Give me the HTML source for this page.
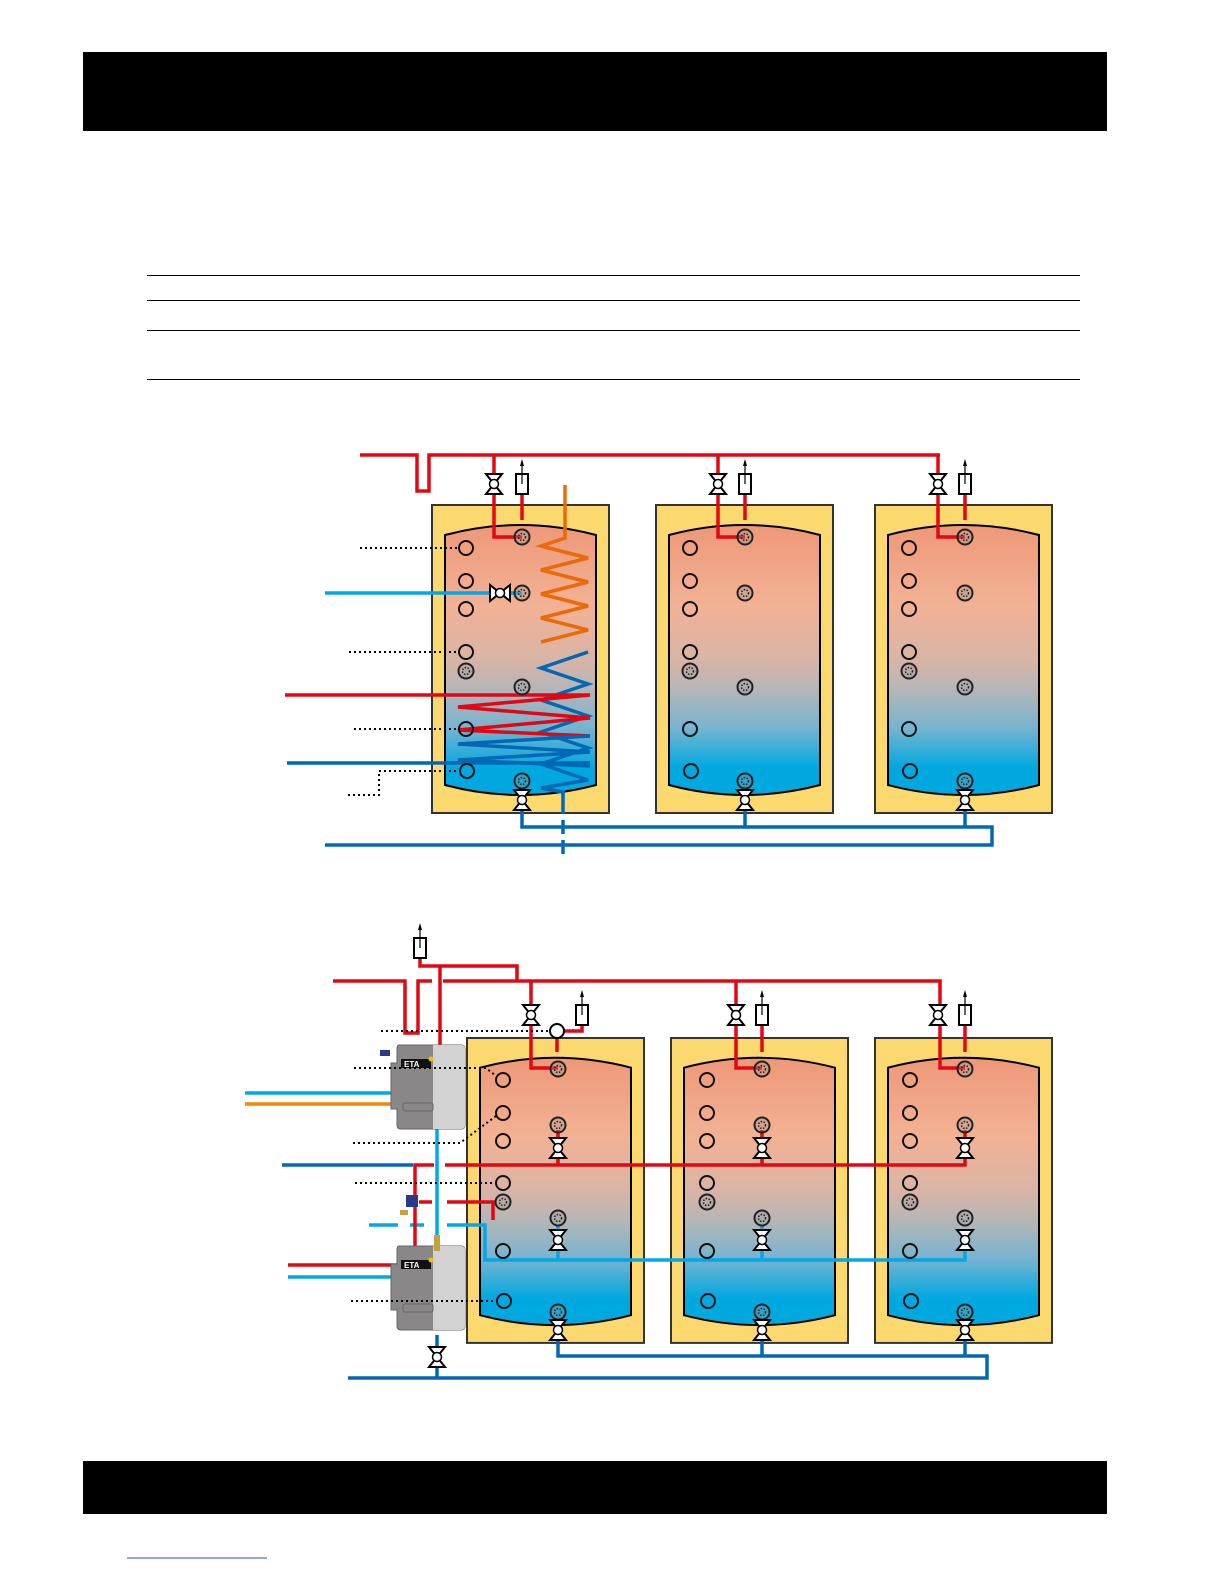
<!DOCTYPE html>
<html><head><meta charset="utf-8"><style>
html,body{margin:0;padding:0;background:#fff}
svg{display:block}
</style></head><body>
<svg width="1225" height="1585" viewBox="0 0 1225 1585" xmlns="http://www.w3.org/2000/svg">
<defs>
<linearGradient id="tg" x1="0" y1="0" x2="0" y2="1">
<stop offset="0" stop-color="#ee9878"/>
<stop offset="0.3" stop-color="#f2b295"/>
<stop offset="0.5" stop-color="#d8b4a6"/>
<stop offset="0.6" stop-color="#b8b6b6"/>
<stop offset="0.75" stop-color="#78b4cf"/>
<stop offset="0.9" stop-color="#00a8e0"/>
<stop offset="1" stop-color="#00a8e0"/>
</linearGradient>
<g id="tank">
<rect x="0" y="0" width="177" height="308" fill="#fbd96e" stroke="#333" stroke-width="2"/>
<path d="M13,30 Q88,10 164,30 L164,280 Q88,300 13,280 Z" fill="url(#tg)" stroke="#000" stroke-width="2"/>
</g>
<g id="vv"><polygon points="-8,-10 8,-10 0,0" fill="#fff" stroke="#000" stroke-width="2"/><polygon points="-8,10 8,10 0,0" fill="#fff" stroke="#000" stroke-width="2"/><circle r="4.5" fill="#fff" stroke="#000" stroke-width="1.5"/></g>
<g id="pt"><circle r="7" fill="none" stroke="#111" stroke-width="2"/></g>
<g id="pd"><circle r="7.5" fill="rgba(150,150,150,0.35)" stroke="#222" stroke-width="2"/><circle r="3.5" fill="none" stroke="#222" stroke-width="1.5" stroke-dasharray="1.5 1.5"/></g>
<g id="vent"><rect x="-6" y="-10" width="12" height="20" fill="#fff" stroke="#000" stroke-width="2"/><line x1="0" y1="0" x2="0" y2="-22" stroke="#000" stroke-width="1.2"/><polygon points="-2,-18 2,-18 0,-25" fill="#000"/></g>
<g id="eta">
<path d="M10,0 H72 Q76,0 76,4 V80 Q76,84 72,84 H12 Q8,84 8,80 V64 H2 V18 H8 V4 Q8,0 10,0 Z" fill="#8a8789" stroke="#666" stroke-width="1"/>
<path d="M44,0 H72 Q76,0 76,4 V80 Q76,84 72,84 H44 Z" fill="#d2d2d2"/>
<rect x="12" y="14" width="30" height="9" fill="#111"/>
<text x="15" y="22" font-family="Liberation Sans, sans-serif" font-size="8" fill="#fff" font-weight="bold">ETA</text>
<circle cx="42" cy="14" r="2.5" fill="#f6c000"/>
<rect x="14" y="58" width="30" height="8" rx="2" fill="none" stroke="#666"/>
</g>
</defs>

<!-- header/footer -->
<rect x="83" y="52" width="1024" height="79" fill="#000"/>
<rect x="83" y="1461" width="1024" height="53" fill="#000"/>
<g stroke="#000" stroke-width="1">
<line x1="147" y1="275.5" x2="1080" y2="275.5"/>
<line x1="147" y1="300.5" x2="1080" y2="300.5"/>
<line x1="147" y1="330.5" x2="1080" y2="330.5"/>
<line x1="147" y1="379.5" x2="1080" y2="379.5"/>
</g>
<line x1="127" y1="1558" x2="267" y2="1558" stroke="#3344cc" stroke-width="1"/>

<!-- ===== TOP DIAGRAM ===== -->
<use href="#tank" x="432" y="505"/>
<use href="#tank" x="656" y="505"/>
<use href="#tank" x="875" y="505"/>

<!-- blue bottom manifold -->
<g fill="none" stroke="#0068b5" stroke-width="3.5">
<polyline points="522,805 522,827 992,827 992,845 325,845"/>
<line x1="745" y1="805" x2="745" y2="827"/>
<line x1="965" y1="805" x2="965" y2="827"/>
</g>
<!-- red top -->
<g fill="none" stroke="#e30613" stroke-width="3.5">
<polyline points="360,455 417,455 417,491 429,491 429,455 940,455"/>
<polyline points="494,455 494,537 522,537"/>
<polyline points="718,455 718,537 745,537"/>
<polyline points="938,455 938,537 965,537"/>
<line x1="522" y1="490" x2="522" y2="520"/>
<line x1="745" y1="490" x2="745" y2="520"/>
<line x1="965" y1="490" x2="965" y2="520"/>
</g>
<!-- coils -->
<polyline fill="none" stroke="#ea6a0a" stroke-width="3.5" points="565,485 565,538 541,546 588,558 541,570 588,582 541,594 588,606 541,618 588,630 541,642"/>
<polyline fill="none" stroke="#0068b5" stroke-width="3.5" points="588,652 541,668 588,684 541,700 588,716 541,732 588,748 541,764 588,780 541,788 563,792 563,800"/>
<line x1="563" y1="800" x2="563" y2="860" stroke="#0068b5" stroke-width="3.5" stroke-dasharray="14 6"/>
<polyline fill="none" stroke="#e30613" stroke-width="3.5" points="285,695 590,695 458,707 590,718 458,730 590,736"/>
<polyline fill="none" stroke="#0068b5" stroke-width="3.5" points="590,736 458,744 590,752 458,760 590,766"/>
<line x1="287" y1="763" x2="590" y2="763" stroke="#0068b5" stroke-width="3.5"/>
<line x1="325" y1="593" x2="522" y2="593" stroke="#00a8e8" stroke-width="3.5"/>
<!-- dotted -->
<g stroke="#000" stroke-width="2" stroke-dasharray="2 3" fill="none">
<line x1="360" y1="548" x2="459" y2="548"/>
<line x1="349" y1="652" x2="459" y2="652"/>
<line x1="354" y1="729" x2="459" y2="729"/>
<polyline points="348,795 379,795 379,771 459,771"/>
</g>
<!-- ports top -->
<g>
<use href="#pt" x="466" y="548"/><use href="#pt" x="466" y="581"/><use href="#pt" x="466" y="609"/><use href="#pt" x="466" y="652"/><use href="#pd" x="466" y="671"/><use href="#pt" x="466" y="729"/><use href="#pt" x="467" y="771"/>
<use href="#pd" x="522" y="537"/><use href="#pd" x="522" y="593"/><use href="#pd" x="522" y="687"/><use href="#pd" x="522" y="781"/>
<use href="#pt" x="690" y="548"/><use href="#pt" x="690" y="581"/><use href="#pt" x="690" y="609"/><use href="#pt" x="690" y="652"/><use href="#pd" x="690" y="671"/><use href="#pt" x="690" y="729"/><use href="#pt" x="691" y="771"/>
<use href="#pd" x="745" y="537"/><use href="#pd" x="745" y="593"/><use href="#pd" x="745" y="687"/><use href="#pd" x="745" y="781"/>
<use href="#pt" x="909" y="548"/><use href="#pt" x="909" y="581"/><use href="#pt" x="909" y="609"/><use href="#pt" x="909" y="652"/><use href="#pd" x="909" y="671"/><use href="#pt" x="909" y="729"/><use href="#pt" x="910" y="771"/>
<use href="#pd" x="965" y="537"/><use href="#pd" x="965" y="593"/><use href="#pd" x="965" y="687"/><use href="#pd" x="965" y="781"/>
</g>
<use href="#vv" x="494" y="484"/><use href="#vv" x="718" y="484"/><use href="#vv" x="938" y="484"/>
<use href="#vent" x="522" y="484"/><use href="#vent" x="745" y="484"/><use href="#vent" x="965" y="484"/>
<use href="#vv" x="522" y="800"/><use href="#vv" x="745" y="800"/><use href="#vv" x="965" y="800"/>
<use href="#vv" transform="translate(500,593) rotate(90)"/>

<!-- ===== BOTTOM DIAGRAM ===== -->
<use href="#tank" transform="translate(467,1038) scale(1,0.99)"/>
<use href="#tank" transform="translate(671,1038) scale(1,0.99)"/>
<use href="#tank" transform="translate(875,1038) scale(1,0.99)"/>

<g fill="none" stroke="#0068b5" stroke-width="3.5">
<polyline points="558,1335 558,1356 987,1356 987,1378 348,1378"/>
<line x1="762" y1="1335" x2="762" y2="1356"/>
<line x1="965" y1="1335" x2="965" y2="1356"/>
<line x1="437" y1="1335" x2="437" y2="1378"/>
<line x1="282" y1="1165" x2="413" y2="1165"/>
</g>
<g fill="none" stroke="#00a8e8" stroke-width="3.5">
<line x1="437" y1="1128" x2="437" y2="1245"/>
<line x1="245" y1="1093" x2="392" y2="1093"/>
<line x1="288" y1="1277" x2="400" y2="1277"/>
<line x1="369" y1="1225" x2="398" y2="1225"/>
<line x1="410" y1="1225" x2="424" y2="1225"/>
<polyline points="447,1225 485,1225 485,1260 965,1260 965,1232"/>
<line x1="558" y1="1260" x2="558" y2="1225"/>
<line x1="762" y1="1260" x2="762" y2="1225"/>
</g>
<line x1="245" y1="1104" x2="392" y2="1104" stroke="#ee8a00" stroke-width="3.5"/>
<g fill="none" stroke="#e30613" stroke-width="3.5">
<polyline points="333,981 405,981 405,1033 418,1033 418,981 432,981"/>
<polyline points="443,981 940,981 940,1068 965,1068"/>
<polyline points="420,958 420,966 517,966 517,981"/>
<line x1="440" y1="966" x2="440" y2="1048"/>
<polyline points="531,981 531,1068 558,1068"/>
<polyline points="736,981 736,1068 762,1068"/>
<polyline points="564,1031 582,1031 582,1022"/>
<line x1="557" y1="1038" x2="557" y2="1052"/>
<line x1="762" y1="1024" x2="762" y2="1052"/>
<line x1="965" y1="1024" x2="965" y2="1052"/>
<polyline points="415,1248 415,1165 434,1165"/>
<polyline points="445,1165 965,1165 965,1130"/>
<line x1="558" y1="1165" x2="558" y2="1130"/>
<line x1="762" y1="1165" x2="762" y2="1130"/>
<line x1="419" y1="1202" x2="432" y2="1202"/>
<polyline points="447,1202 493,1202 493,1220"/>
<line x1="288" y1="1265" x2="400" y2="1265"/>
</g>
<!-- ETA units -->
<use href="#eta" x="389" y="1045"/>
<use href="#eta" x="389" y="1246"/>
<rect x="406" y="1195" width="12" height="12" fill="#2a3a8a"/>
<rect x="400" y="1210" width="8" height="5" fill="#c8a040"/>
<rect x="434" y="1235" width="6" height="16" fill="#c8a040"/>
<rect x="380" y="1050" width="10" height="6" fill="#2a3a8a"/>
<!-- dotted -->
<g stroke="#000" stroke-width="2" stroke-dasharray="2 3" fill="none">
<line x1="381" y1="1031" x2="550" y2="1031"/>
<polyline points="354,1068 486,1068 496,1076"/>
<polyline points="353,1143 460,1143 496,1116"/>
<line x1="355" y1="1183" x2="496" y2="1183"/>
<line x1="351" y1="1301" x2="496" y2="1301"/>
</g>
<g>
<use href="#pt" x="503" y="1080"/><use href="#pt" x="503" y="1113"/><use href="#pt" x="503" y="1141"/><use href="#pt" x="503" y="1183"/><use href="#pd" x="503" y="1202"/><use href="#pt" x="503" y="1251"/><use href="#pt" x="504" y="1301"/>
<use href="#pd" x="558" y="1069"/><use href="#pd" x="558" y="1125"/><use href="#pd" x="558" y="1218"/><use href="#pd" x="558" y="1312"/>
<use href="#pt" x="707" y="1080"/><use href="#pt" x="707" y="1113"/><use href="#pt" x="707" y="1141"/><use href="#pt" x="707" y="1183"/><use href="#pd" x="707" y="1202"/><use href="#pt" x="707" y="1251"/><use href="#pt" x="708" y="1301"/>
<use href="#pd" x="762" y="1069"/><use href="#pd" x="762" y="1125"/><use href="#pd" x="762" y="1218"/><use href="#pd" x="762" y="1312"/>
<use href="#pt" x="910" y="1080"/><use href="#pt" x="910" y="1113"/><use href="#pt" x="910" y="1141"/><use href="#pt" x="910" y="1183"/><use href="#pd" x="910" y="1202"/><use href="#pt" x="910" y="1251"/><use href="#pt" x="911" y="1301"/>
<use href="#pd" x="965" y="1069"/><use href="#pd" x="965" y="1125"/><use href="#pd" x="965" y="1218"/><use href="#pd" x="965" y="1312"/>
</g>
<circle cx="557" cy="1031" r="7" fill="#fff" stroke="#000" stroke-width="2"/>
<use href="#vv" x="531" y="1015"/><use href="#vv" x="736" y="1015"/><use href="#vv" x="938" y="1015"/>
<use href="#vent" x="582" y="1015"/><use href="#vent" x="762" y="1015"/><use href="#vent" x="965" y="1015"/>
<use href="#vent" x="420" y="948"/>
<use href="#vv" x="558" y="1148"/><use href="#vv" x="762" y="1148"/><use href="#vv" x="965" y="1148"/>
<use href="#vv" x="558" y="1240"/><use href="#vv" x="762" y="1240"/><use href="#vv" x="965" y="1240"/>
<use href="#vv" x="558" y="1330"/><use href="#vv" x="762" y="1330"/><use href="#vv" x="965" y="1330"/>
<use href="#vv" x="437" y="1357"/>
</svg>
</body></html>
